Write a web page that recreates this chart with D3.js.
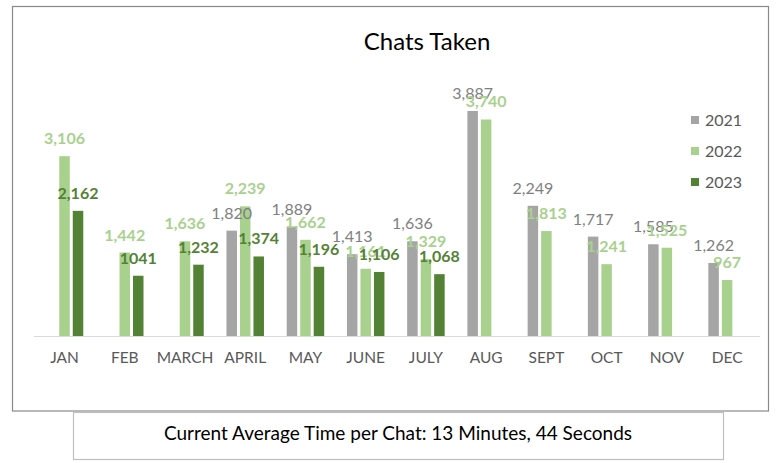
<!DOCTYPE html>
<html><head><meta charset="utf-8">
<script src="https://cdn.jsdelivr.net/npm/d3@7"></script>
<style>body{margin:0;background:#fff}svg{display:block}text{font-family:Lato,"Open Sans",sans-serif}</style>
</head><body><svg id="c" width="781" height="463"></svg>
<script>
const months = ["JAN","FEB","MARCH","APRIL","MAY","JUNE","JULY","AUG","SEPT","OCT","NOV","DEC"];
const seriesNames = ["2021","2022","2023"];
const v2021 = [null,null,null,1820,1889,1413,1636,3887,2249,1717,1585,1262];
const v2022 = [3106,1442,1636,2239,1662,1161,1329,3740,1813,1241,1525,967];
const v2023 = [2162,1041,1232,1374,1196,1106,1068,null,null,null,null,null];
const labels2023 = ["2,162","1041","1,232","1,374","1,196","1,106","1,068",null,null,null,null,null];
const barColors = ["#a5a5a5","#a9d18e","#548235"];
const labelColors = ["#808080","#a9d18e","#548235"];
const title = "Chats Taken";
const caption = "Current Average Time per Chat: 13 Minutes, 44 Seconds";

const svg = d3.select("#c");
svg.append("rect").attr("x",12.5).attr("y",6.5).attr("width",756).attr("height",404.5)
  .attr("fill","#fff").attr("stroke","#898989").attr("stroke-width",1.2);
svg.append("rect").attr("x",73.5).attr("y",412.5).attr("width",650).attr("height",47)
  .attr("fill","#fff").attr("stroke","#bfbfbf").attr("stroke-width",1.2);

svg.append("text").attr("x",427).attr("y",50).attr("text-anchor","middle")
  .attr("font-size",24).attr("fill","#000").text(title);
svg.append("text").attr("x",398).attr("y",440).attr("text-anchor","middle")
  .attr("font-size",19).attr("fill","#000").text(caption);

const x = d3.scaleBand().domain(months).range([34.4,757.2]).padding(0);
const y = d3.scaleLinear().domain([0,4500]).range([336,75.5]);
const barW = 10.5, step = 13.5;

svg.append("line").attr("x1",34).attr("x2",760).attr("y1",336.5).attr("y2",336.5)
  .attr("stroke","#d9d9d9").attr("stroke-width",1);

const all = [v2021, v2022, v2023];
const barLayer = svg.append("g"), labelLayer = svg.append("g");
all.forEach((vals, si) => {
  const data = months.map((m,i)=>({m, v: vals[i], i})).filter(d=>d.v!=null);
  const cx = d => x(d.m) + x.bandwidth()/2 + (si-1)*step;
  barLayer.append("g").selectAll("rect").data(data).join("rect")
    .attr("x", d=>cx(d)-barW/2).attr("width",barW)
    .attr("y", d=>y(d.v)).attr("height", d=>y(0)-y(d.v))
    .attr("fill", barColors[si]);
  labelLayer.append("g").selectAll("text").data(data).join("text")
    .attr("x", cx).attr("y", d=>y(d.v)-12).attr("text-anchor","middle")
    .attr("font-size",16).attr("font-weight", si===0?"normal":"bold")
    .attr("fill", labelColors[si])
    .text(d => si===2 ? labels2023[d.i] : d3.format(",")(d.v));
});

const xAxis = svg.append("g").attr("transform","translate(0,336)")
  .call(d3.axisBottom(x).tickSize(0).tickPadding(16));
xAxis.select(".domain").remove();
xAxis.selectAll("text").attr("font-size",15.5).attr("fill","#595959").attr("font-family","Lato");

const lg = svg.append("g").selectAll("g").data(seriesNames).join("g")
  .attr("transform",(d,i)=>`translate(691,${116+i*31})`);
lg.append("rect").attr("width",8).attr("height",8).attr("fill",(d,i)=>barColors[i]);
lg.append("text").attr("x",14).attr("y",9.5).attr("font-size",16).attr("fill","#595959").text(d=>d);
</script></body></html>
